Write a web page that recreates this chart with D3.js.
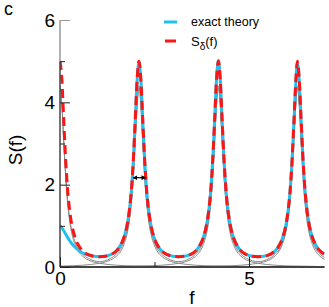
<!DOCTYPE html>
<html><head><meta charset="utf-8">
<script src="https://cdn.jsdelivr.net/npm/d3@7"></script>
<style>body{margin:0;background:#fff}svg{display:block}text{font-family:"Liberation Sans",Arial,Helvetica,sans-serif}</style>
</head><body><svg id="c" width="329" height="307"></svg>
<script>
// ---- data ----
const fGrid = [0,0.05,0.1,0.15,0.2,0.25,0.3,0.4,0.5,0.6,0.75,0.9,1.05,
1.19,1.34,1.49,1.59,1.69,1.79,1.84,1.89,1.94,1.99,2.04,2.09,2.14,2.19,2.24,2.29,2.34,2.39,2.49,2.59,2.69,2.84,2.99,3.14,
3.29,3.44,3.59,3.69,3.79,3.89,3.94,3.99,4.04,4.09,4.14,4.19,4.24,4.29,4.34,4.39,4.44,4.49,4.59,4.69,4.79,4.94,5.09,5.24,
5.39,5.54,5.69,5.79,5.89,5.99,6.04,6.09,6.14,6.19,6.24,6.28,6.33,6.38,6.43,6.48,6.53,6.58,6.68,6.78,6.88,7.0];

const sDelta = [5.0,4.55,3.55,2.6,1.88,1.41,1.09,0.71,0.51,0.39,0.30,0.26,0.25,
0.26,0.30,0.39,0.51,0.71,1.09,1.41,1.88,2.6,3.55,4.55,5.0,4.55,3.55,2.6,1.88,1.41,1.09,0.71,0.51,0.39,0.30,0.26,0.25,
0.26,0.30,0.39,0.51,0.71,1.09,1.41,1.88,2.6,3.55,4.55,5.0,4.55,3.55,2.6,1.88,1.41,1.09,0.71,0.51,0.39,0.30,0.26,0.25,
0.26,0.30,0.39,0.51,0.71,1.09,1.41,1.88,2.6,3.55,4.55,5.0,4.55,3.55,2.6,1.88,1.41,1.09,0.71,0.51,0.39,0.31];

const exactTheory = [1.0,0.95,0.88,0.8,0.72,0.65,0.58,0.48,0.40,0.34,0.29,0.26,0.25,
0.26,0.30,0.39,0.51,0.71,1.09,1.41,1.88,2.6,3.55,4.52,4.98,4.52,3.55,2.6,1.88,1.41,1.09,0.71,0.51,0.39,0.30,0.26,0.25,
0.26,0.30,0.39,0.51,0.71,1.09,1.41,1.88,2.6,3.55,4.55,5.02,4.55,3.55,2.6,1.88,1.41,1.09,0.71,0.51,0.39,0.30,0.26,0.25,
0.26,0.30,0.39,0.51,0.71,1.09,1.41,1.88,2.6,3.55,4.5,4.95,4.5,3.55,2.6,1.88,1.41,1.09,0.71,0.51,0.39,0.31];

const grayEnvelope = [4.4,3.95,3.07,2.25,1.64,1.22,0.94,0.61,0.42,0.31,0.21,0.15,0.13,
0.15,0.21,0.31,0.42,0.61,0.94,1.22,1.64,2.25,3.07,3.95,4.4,3.95,3.07,2.25,1.64,1.22,0.94,0.61,0.42,0.31,0.21,0.15,0.13,
0.15,0.21,0.31,0.42,0.61,0.94,1.22,1.64,2.25,3.07,3.95,4.4,3.95,3.07,2.25,1.64,1.22,0.94,0.61,0.42,0.31,0.21,0.15,0.13,
0.15,0.21,0.31,0.42,0.61,0.94,1.22,1.64,2.25,3.07,3.95,4.4,3.95,3.07,2.25,1.64,1.22,0.94,0.61,0.42,0.31,0.23];

const peakCenters = [0, 2.09, 4.19, 6.28];
const peakOffsets = [-2.6,-2,-1.5,-1.05,-0.9,-0.75,-0.6,-0.5,-0.4,-0.3,-0.25,-0.2,-0.15,-0.1,-0.05,0,0.05,0.1,0.15,0.2,0.25,0.3,0.4,0.5,0.6,0.75,0.9,1.05,1.5,2,2.6];
const peakProfile = [0.014,0.024,0.043,0.09,0.12,0.17,0.26,0.36,0.54,0.87,1.15,1.57,2.18,3.0,3.9,4.35,3.9,3.0,2.18,1.57,1.15,0.87,0.54,0.36,0.26,0.17,0.12,0.09,0.043,0.024,0.014];

const widthF = [1.93, 2.27];
const widthS = 2.17;

const yMajor = [0,2,4,6], yMinor = [1,3,5];
const xMajor = [0,5], xMinor = [2.5];
const legendLabels = ["exact theory", "S", "δ", "(f)"];

// ---- drawing ----
const svg = d3.select("#c");
const x = d3.scaleLinear().domain([0,7]).range([60,324.6]);
const y = d3.scaleLinear().domain([0,6]).range([267,20]);

svg.append("clipPath").attr("id","clip").append("rect")
  .attr("x",x(0)).attr("y",y(6)).attr("width",x(7)-x(0)).attr("height",y(0)-y(6));

const line = d3.line().x(d=>x(d[0])).y(d=>y(d[1])).curve(d3.curveMonotoneX);
const plot = svg.append("g").attr("clip-path","url(#clip)");

peakCenters.forEach(c=>{
  plot.append("path").attr("d", line(peakOffsets.map((o,i)=>[c+o, peakProfile[i]])))
    .attr("fill","none").attr("stroke","#8a8a8a").attr("stroke-width",1);
});
plot.append("path").attr("d", line(fGrid.map((f,i)=>[f, grayEnvelope[i]])))
  .attr("fill","none").attr("stroke","#8a8a8a").attr("stroke-width",1);
plot.append("path").attr("d", line(fGrid.map((f,i)=>[f, exactTheory[i]])))
  .attr("fill","none").attr("stroke","#22c0ec").attr("stroke-width",3);
plot.append("path").attr("d", line(fGrid.map((f,i)=>[f, sDelta[i]])))
  .attr("fill","none").attr("stroke","#ff1414").attr("stroke-width",3).attr("stroke-dasharray","9,5");

// width arrow
const defs = svg.append("defs");
defs.append("marker").attr("id","ah").attr("viewBox","0 0 10 10").attr("refX",9).attr("refY",5)
  .attr("markerWidth",4).attr("markerHeight",4).attr("orient","auto-start-reverse")
  .append("path").attr("d","M0,0L10,5L0,10z").attr("fill","#000");
svg.append("line").attr("x1",x(widthF[0])).attr("x2",x(widthF[1])).attr("y1",y(widthS)).attr("y2",y(widthS))
  .attr("stroke","#000").attr("stroke-width",1.2)
  .attr("marker-start","url(#ah)").attr("marker-end","url(#ah)");

// axes lines
svg.append("line").attr("x1",x(0)).attr("x2",x(0)).attr("y1",y(0)).attr("y2",y(5)).attr("stroke","#444").attr("stroke-width",1.5);
svg.append("line").attr("x1",x(0)).attr("x2",x(0)).attr("y1",y(5)).attr("y2",y(6)).attr("stroke","#999").attr("stroke-width",1.5);
svg.append("line").attr("x1",x(0)).attr("x2",x(7)).attr("y1",y(0)).attr("y2",y(0)).attr("stroke","#444").attr("stroke-width",2);

const fs = "19px";
const yAx = svg.append("g").attr("transform",`translate(${x(0)},0)`)
  .call(d3.axisLeft(y).tickValues(yMajor).tickSizeInner(-10).tickSizeOuter(0).tickPadding(5).tickFormat(d3.format("d")));
yAx.select(".domain").remove();
yAx.selectAll("text").attr("font-size",fs).attr("fill","#000").style("font-family",'"Liberation Sans",Arial,sans-serif');
yAx.selectAll(".tick line").attr("stroke",d=>d===6?"#999":"#222");
const yAx2 = svg.append("g").attr("transform",`translate(${x(0)},0)`)
  .call(d3.axisLeft(y).tickValues(yMinor).tickSizeInner(-5).tickSizeOuter(0).tickFormat(""));
yAx2.select(".domain").remove();
yAx2.selectAll(".tick line").attr("stroke","#222");

const xAx = svg.append("g").attr("transform",`translate(0,${y(0)})`)
  .call(d3.axisBottom(x).tickValues(xMajor).tickSizeInner(-10).tickSizeOuter(0).tickPadding(5).tickFormat(d3.format("d")));
xAx.select(".domain").remove();
xAx.selectAll("text").attr("font-size",fs).attr("fill","#000").style("font-family",'"Liberation Sans",Arial,sans-serif');
xAx.selectAll(".tick line").attr("stroke","#222");
const xAx2 = svg.append("g").attr("transform",`translate(0,${y(0)})`)
  .call(d3.axisBottom(x).tickValues(xMinor).tickSizeInner(-5).tickSizeOuter(0).tickFormat(""));
xAx2.select(".domain").remove();
xAx2.selectAll(".tick line").attr("stroke","#222");

// titles
svg.append("text").attr("x",192).attr("y",304).attr("text-anchor","middle").attr("font-size","19px").text("f");
svg.append("text").attr("transform","translate(22,150) rotate(-90)").attr("text-anchor","middle").attr("font-size","19px").text("S(f)");
svg.append("text").attr("x",4).attr("y",15).attr("font-size","18px").text("c");

// legend
svg.append("line").attr("x1",164).attr("x2",177).attr("y1",22).attr("y2",22).attr("stroke","#22c0ec").attr("stroke-width",3);
svg.append("text").attr("x",191).attr("y",26).attr("font-size","12.5px").text(legendLabels[0]);
svg.append("line").attr("x1",165).attr("x2",176).attr("y1",41).attr("y2",41).attr("stroke","#ff1414").attr("stroke-width",3);
const lt = svg.append("text").attr("x",191).attr("y",46).attr("font-size","13px");
lt.append("tspan").text(legendLabels[1]);
lt.append("tspan").attr("dy",4).attr("font-size","10px").text(legendLabels[2]);
lt.append("tspan").attr("dy",-4).text(legendLabels[3]);
</script>
</body></html>
